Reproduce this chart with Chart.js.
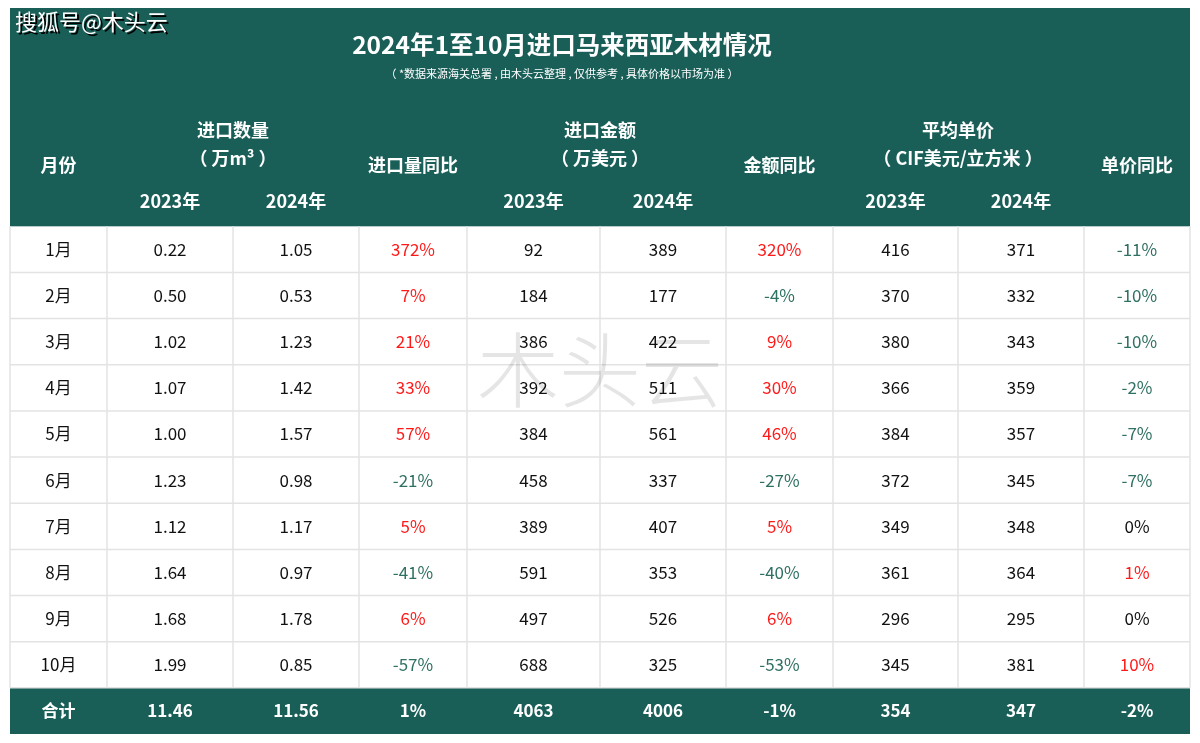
<!DOCTYPE html>
<html>
<head>
<meta charset="utf-8">
<script src="https://cdn.jsdelivr.net/npm/chart.js@4.4.1/dist/chart.umd.min.js"></script>
<style>
  html, body { margin: 0; padding: 0; background: #fff; }
  #wrap { width: 1200px; height: 743px; }
</style>
</head>
<body>
<div id="wrap"><canvas id="tableChart" width="1200" height="743"></canvas></div>
<script>
// data
var months = ['1月', '2月', '3月', '4月', '5月', '6月', '7月', '8月', '9月', '10月'];
var vol2023 = [0.22, 0.50, 1.02, 1.07, 1.00, 1.23, 1.12, 1.64, 1.68, 1.99];
var vol2024 = [1.05, 0.53, 1.23, 1.42, 1.57, 0.98, 1.17, 0.97, 1.78, 0.85];
var volYoY = [372, 7, 21, 33, 57, -21, 5, -41, 6, -57];
var amt2023 = [92, 184, 386, 392, 384, 458, 389, 591, 497, 688];
var amt2024 = [389, 177, 422, 511, 561, 337, 407, 353, 526, 325];
var amtYoY = [320, -4, 9, 30, 46, -27, 5, -40, 6, -53];
var price2023 = [416, 370, 380, 366, 384, 372, 349, 361, 296, 345];
var price2024 = [371, 332, 343, 359, 357, 345, 348, 364, 295, 381];
var priceYoY = [-11, -10, -10, -2, -7, -7, 0, 1, 0, 10];
var totalLabel = '合计';
var totals = [11.46, 11.56, 1, 4063, 4006, -1, 354, 347, -2];

var title = '2024年1至10月进口马来西亚木材情况';
var subtitle = '（ *数据来源海关总署 , 由木头云整理 , 仅供参考 , 具体价格以市场为准 ）';
var groupHeaders = [
    { cols: [1, 2], lines: ['进口数量', '（ 万m³ ）'] },
    { cols: [4, 5], lines: ['进口金额', '（ 万美元 ）'] },
    { cols: [7, 8], lines: ['平均单价', '（ CIF美元/立方米 ）'] }
];
var singleHeaders = [{ col: 0, text: '月份' }, { col: 3, text: '进口量同比' }, { col: 6, text: '金额同比' }, { col: 9, text: '单价同比' }];
var yearHeaders = ['2023年', '2024年'];
var sourceMark = '搜狐号@木头云';
var watermark = '木头云';

// layout (style only)
var colWidths = [97, 126, 126, 108, 133, 126, 107, 125, 126, 106];
var headerUnits = 4.73;
var GREEN = '#195f58';
var UP = '#ff1a1a';
var DOWN = '#2f7062';
var FONT = '"Noto Sans CJK SC", "Noto Sans", sans-serif';

var colEdges = [0];
colWidths.forEach(function(w) { colEdges.push(colEdges[colEdges.length - 1] + w); });
var totalWidth = colEdges[colEdges.length - 1];
var totalRows = headerUnits + months.length + 1;

function pct(v) { return v + '%'; }
function pctColor(v) { return v > 0 ? UP : (v < 0 ? DOWN : '#111'); }

var tablePlugin = {
    id: 'tablePlugin',
    beforeDraw: function(chart) {
        var ctx = chart.ctx;
        var xs = chart.scales.x, ys = chart.scales.y;
        var X = function(v) { return xs.getPixelForValue(v); };
        var Y = function(v) { return ys.getPixelForValue(v); };
        var colMid = function(c) { return X((colEdges[c] + colEdges[c + 1]) / 2); };
        var rowMid = function(r) { return Y(headerUnits + r + 0.5); };

        ctx.save();
        // backgrounds
        ctx.fillStyle = GREEN;
        ctx.fillRect(X(0), Y(0), X(totalWidth) - X(0), Y(headerUnits) - Y(0));
        ctx.fillRect(X(0), Y(headerUnits + months.length), X(totalWidth) - X(0), Y(totalRows) - Y(headerUnits + months.length));

        // grid
        ctx.strokeStyle = '#e3e3e3';
        ctx.lineWidth = 1.5;
        for (var r = 1; r <= months.length; r++) {
            ctx.beginPath();
            ctx.moveTo(X(0), Y(headerUnits + r));
            ctx.lineTo(X(totalWidth), Y(headerUnits + r));
            ctx.stroke();
        }
        for (var c = 0; c <= colWidths.length; c++) {
            ctx.beginPath();
            ctx.moveTo(X(colEdges[c]), Y(headerUnits));
            ctx.lineTo(X(colEdges[c]), Y(headerUnits + months.length));
            ctx.stroke();
        }

        // big watermark
        ctx.fillStyle = 'rgba(0,0,0,0.1)';
        ctx.font = '300 82px ' + FONT;
        ctx.textAlign = 'center';
        ctx.textBaseline = 'middle';
        ctx.fillText(watermark, X(590), Y(headerUnits + 3.1));

        // title
        ctx.fillStyle = '#fff';
        ctx.font = 'bold 24.5px ' + FONT;
        ctx.fillText(title, X(552), Y(0.8));
        ctx.font = '11px ' + FONT;
        ctx.fillText(subtitle, X(552), Y(1.43));

        // header cells
        ctx.font = 'bold 18px ' + FONT;
        singleHeaders.forEach(function(h) { ctx.fillText(h.text, colMid(h.col), Y(3.4)); });
        groupHeaders.forEach(function(g) {
            var cx = X(colEdges[g.cols[1]]);
            ctx.fillText(g.lines[0], cx, Y(2.64));
            ctx.fillText(g.lines[1], cx, Y(3.25));
            ctx.fillText(yearHeaders[0], colMid(g.cols[0]), Y(4.18));
            ctx.fillText(yearHeaders[1], colMid(g.cols[1]), Y(4.18));
        });

        // body
        ctx.font = '17px ' + FONT;
        months.forEach(function(m, i) {
            var y = rowMid(i);
            var cells = [
                [m, '#111'],
                [vol2023[i].toFixed(2), '#111'],
                [vol2024[i].toFixed(2), '#111'],
                [pct(volYoY[i]), pctColor(volYoY[i])],
                [String(amt2023[i]), '#111'],
                [String(amt2024[i]), '#111'],
                [pct(amtYoY[i]), pctColor(amtYoY[i])],
                [String(price2023[i]), '#111'],
                [String(price2024[i]), '#111'],
                [pct(priceYoY[i]), pctColor(priceYoY[i])]
            ];
            cells.forEach(function(cell, c) {
                ctx.fillStyle = cell[1];
                ctx.fillText(cell[0], colMid(c), y);
            });
        });

        // totals
        ctx.fillStyle = '#fff';
        ctx.font = 'bold 17px ' + FONT;
        var ty = rowMid(months.length);
        ctx.fillText(totalLabel, colMid(0), ty);
        totals.forEach(function(v, k) {
            var c = k + 1;
            var txt = (c === 3 || c === 6 || c === 9) ? pct(v) : (c <= 2 ? v.toFixed(2) : String(v));
            ctx.fillText(txt, colMid(c), ty);
        });

        // source mark top-left
        ctx.textAlign = 'left';
        ctx.font = '22px ' + FONT;
        ctx.fillStyle = '#000';
        ctx.fillText(sourceMark, 17, 24);
        ctx.fillStyle = '#fff';
        ctx.fillText(sourceMark, 15, 22);
        ctx.restore();
    }
};

document.addEventListener('DOMContentLoaded', function() {
    var ctx = document.getElementById('tableChart').getContext('2d');
    var tableChart = new Chart(ctx, {
        type: 'scatter',
        data: { datasets: [] },
        options: {
            responsive: false,
            animation: false,
            events: [],
            layout: { padding: { left: 10, right: 10, top: 8, bottom: 9 } },
            plugins: { legend: { display: false }, tooltip: { enabled: false } },
            scales: {
                x: { type: 'linear', display: false, min: 0, max: totalWidth },
                y: { type: 'linear', display: false, min: 0, max: totalRows, reverse: true }
            }
        },
        plugins: [tablePlugin]
    });
});
</script>
</body>
</html>
